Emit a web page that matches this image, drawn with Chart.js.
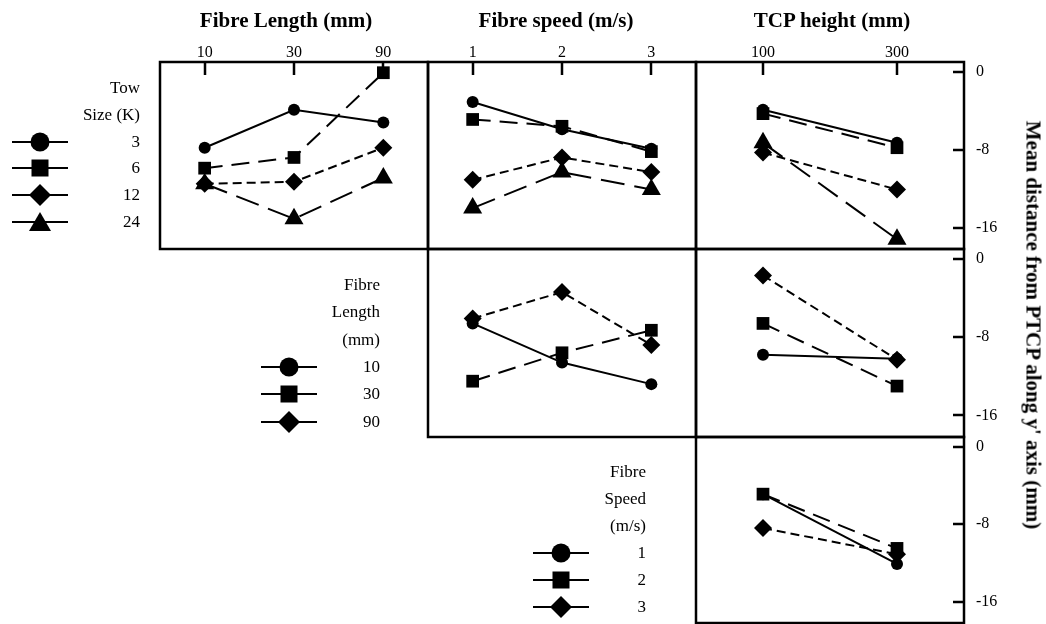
<!DOCTYPE html>
<html>
<head>
<meta charset="utf-8">
<script src="https://cdn.jsdelivr.net/npm/chart.js@4.4.1/dist/chart.umd.min.js"></script>
<style>
  html, body { margin: 0; padding: 0; background: #fff; }
  #page { position: relative; width: 1046px; height: 624px; overflow: hidden; font-family: "Liberation Serif", "DejaVu Serif", serif; color: #000; }
  canvas.panel { position: absolute; }
  .title { position: absolute; font-weight: bold; font-size: 21px; white-space: nowrap; transform: translate(-50%, -50%); }
  .ytitle { position: absolute; font-weight: bold; font-size: 21px; white-space: nowrap; transform: translate(-50%, -50%) rotate(90deg); }
  .legtext { position: absolute; font-size: 17px; white-space: nowrap; transform: translate(-100%, -50%); }
  .legsym { position: absolute; }
</style>
</head>
<body>
<div id="page"></div>
<script>
// Factor levels (x categories and series names)
const towSizes = ['3', '6', '12', '24'];
const fibreLengths = ['10', '30', '90'];
const fibreSpeeds = ['1', '2', '3'];
const tcpHeights = ['100', '300'];
const yTicks = [0, -8, -16];

// Mean distance from PTCP (mm), one row per series
const lengthByTow = [
    [-7.8, -3.9, -5.2],
    [-9.9, -8.8, -0.1],
    [-11.5, -11.3, -7.8],
    [-11.5, -15.1, -10.9]
];
const speedByTow = [
    [-3.1, -5.9, -7.9],
    [-4.9, -5.6, -8.2],
    [-11.1, -8.8, -10.3],
    [-14.0, -10.3, -12.1]
];
const tcpByTow = [
    [-3.9, -7.3],
    [-4.3, -7.8],
    [-8.3, -12.1],
    [-7.3, -17.2]
];
const speedByLength = [
    [-6.6, -10.6, -12.8],
    [-12.5, -9.6, -7.3],
    [-6.1, -3.4, -8.8]
];
const tcpByLength = [
    [-9.8, -10.2],
    [-6.6, -13.0],
    [-1.7, -10.3]
];
const tcpBySpeed = [
    [-4.9, -12.1],
    [-4.9, -10.5],
    [-8.4, -11.1]
];

const page = document.getElementById('page');
const FONT = '"Liberation Serif", "DejaVu Serif", serif';

// Panel grid geometry
const COLS = [160, 428, 696];
const ROWS = [62, 249, 437];
const PW = 268;
const PH = [187, 188, 186];
const Y_MIN = -18.2, Y_MAX = 1.0;

// marker / line style per series position
const STYLES = [
    { pointStyle: 'circle', radius: 6, dash: [] },
    { pointStyle: 'rect', radius: 9, dash: [18, 9] },
    { pointStyle: 'rectRot', radius: 9, dash: [9, 5] },
    { pointStyle: 'triangle', radius: 11, dash: [24, 10] }
];

function framePlugin(topTicks, rightTicks) {
    return {
        id: 'frame',
        afterDraw(chart) {
            const { ctx, chartArea: a, scales } = chart;
            ctx.save();
            ctx.strokeStyle = '#000';
            ctx.lineWidth = 2.5;
            ctx.setLineDash([]);
            ctx.strokeRect(a.left, a.top, a.right - a.left, a.bottom - a.top);
            ctx.beginPath();
            if (topTicks) {
                scales.x.ticks.forEach((t, i) => {
                    const px = Math.round(scales.x.getPixelForTick(i));
                    ctx.moveTo(px, a.top);
                    ctx.lineTo(px, a.top + 13);
                });
            }
            if (rightTicks) {
                scales.y.ticks.forEach(t => {
                    const py = Math.round(scales.y.getPixelForValue(t.value));
                    ctx.moveTo(a.right - 11, py);
                    ctx.lineTo(a.right, py);
                });
            }
            ctx.stroke();
            ctx.restore();
        }
    };
}

function makePanel(col, row, labels, series, showX) {
    const showY = col === 2;
    const padL = 30, padB = 30;
    const padT = showX ? 50 : 30;
    const padR = showY ? 80 : 30;
    const w = PW + padL + padR, h = PH[row] + padT + padB;
    const canvas = document.createElement('canvas');
    canvas.className = 'panel';
    canvas.width = w;
    canvas.height = h;
    canvas.style.width = w + 'px';
    canvas.style.height = h + 'px';
    canvas.style.left = (COLS[col] - padL) + 'px';
    canvas.style.top = (ROWS[row] - padT) + 'px';
    page.appendChild(canvas);

    const datasets = series.map((data, i) => ({
        data: data,
        borderColor: '#000',
        backgroundColor: '#000',
        borderWidth: 2,
        borderDash: STYLES[i].dash,
        pointStyle: STYLES[i].pointStyle,
        pointRadius: STYLES[i].radius,
        pointBackgroundColor: '#000',
        pointBorderWidth: 0,
        tension: 0,
        fill: false,
        clip: false
    }));

    new Chart(canvas, {
        type: 'line',
        data: { labels: labels, datasets: datasets },
        options: {
            responsive: false,
            animation: false,
            devicePixelRatio: 1,
            events: [],
            layout: {
                padding: {
                    left: padL,
                    bottom: padB,
                    top: showX ? padT - 30 : padT,
                    right: showY ? padR - 40 : padR
                }
            },
            plugins: { legend: { display: false }, tooltip: { enabled: false } },
            scales: {
                x: {
                    type: 'category',
                    position: 'top',
                    offset: true,
                    display: showX,
                    grid: { display: false, drawTicks: false },
                    border: { display: false },
                    ticks: { padding: 0, color: '#000', font: { family: FONT, size: 16 }, maxRotation: 0, autoSkip: false },
                    afterFit(s) { s.height = showX ? 30 : 0; }
                },
                y: {
                    type: 'linear',
                    position: 'right',
                    min: Y_MIN,
                    max: Y_MAX,
                    display: showY,
                    grid: { display: false, drawTicks: false },
                    border: { display: false },
                    ticks: { padding: 12, color: '#000', font: { family: FONT, size: 16 }, callback: v => String(v) },
                    afterBuildTicks(s) { s.ticks = yTicks.map(v => ({ value: v })); },
                    afterFit(s) { s.width = showY ? 40 : 0; }
                }
            }
        },
        plugins: [framePlugin(showX, showY)]
    });
}

function addText(cls, text, x, y) {
    const d = document.createElement('div');
    d.className = cls;
    d.textContent = text;
    d.style.left = x + 'px';
    d.style.top = y + 'px';
    page.appendChild(d);
}

function symbolSvg(i) {
    const ns = 'http://www.w3.org/2000/svg';
    const svg = document.createElementNS(ns, 'svg');
    svg.setAttribute('width', 56);
    svg.setAttribute('height', 24);
    const line = document.createElementNS(ns, 'line');
    line.setAttribute('x1', 0); line.setAttribute('x2', 56);
    line.setAttribute('y1', 12); line.setAttribute('y2', 12);
    line.setAttribute('stroke', '#000'); line.setAttribute('stroke-width', 2);
    svg.appendChild(line);
    let m;
    const st = STYLES[i].pointStyle;
    if (st === 'circle') {
        m = document.createElementNS(ns, 'circle');
        m.setAttribute('cx', 28); m.setAttribute('cy', 12); m.setAttribute('r', 9.5);
    } else if (st === 'rect') {
        m = document.createElementNS(ns, 'rect');
        m.setAttribute('x', 19.5); m.setAttribute('y', 3.5); m.setAttribute('width', 17); m.setAttribute('height', 17);
    } else if (st === 'rectRot') {
        m = document.createElementNS(ns, 'polygon');
        m.setAttribute('points', '17,12 28,1 39,12 28,23');
    } else {
        m = document.createElementNS(ns, 'polygon');
        m.setAttribute('points', '17,21 28,2 39,21');
    }
    m.setAttribute('fill', '#000');
    svg.appendChild(m);
    return svg;
}

function makeLegend(rightX, symX, firstY, step, titleLines, labels) {
    titleLines.forEach((t, i) => addText('legtext', t, rightX, firstY + i * step));
    labels.forEach((t, i) => {
        const y = firstY + (titleLines.length + i) * step;
        addText('legtext', t, rightX, y);
        const svg = symbolSvg(i);
        svg.setAttribute('class', 'legsym');
        svg.style.left = (symX - 28) + 'px';
        svg.style.top = (y - 12) + 'px';
        page.appendChild(svg);
    });
}

// Row 1: tow size series
makePanel(0, 0, fibreLengths, lengthByTow, true);
makePanel(1, 0, fibreSpeeds, speedByTow, true);
makePanel(2, 0, tcpHeights, tcpByTow, true);
// Row 2: fibre length series
makePanel(1, 1, fibreSpeeds, speedByLength, false);
makePanel(2, 1, tcpHeights, tcpByLength, false);
// Row 3: fibre speed series
makePanel(2, 2, tcpHeights, tcpBySpeed, false);

// Column titles and right axis title
addText('title', 'Fibre Length (mm)', 286, 20);
addText('title', 'Fibre speed (m/s)', 556, 20);
addText('title', 'TCP height (mm)', 832, 20);
addText('ytitle', "Mean distance from PTCP along y' axis (mm)", 1033, 325);

// Legends
makeLegend(140, 40, 88, 26.8, ['Tow', 'Size (K)'], towSizes);
makeLegend(380, 289, 285, 27.3, ['Fibre', 'Length', '(mm)'], fibreLengths);
makeLegend(646, 561, 471.7, 27, ['Fibre', 'Speed', '(m/s)'], fibreSpeeds);
</script>
</body>
</html>
